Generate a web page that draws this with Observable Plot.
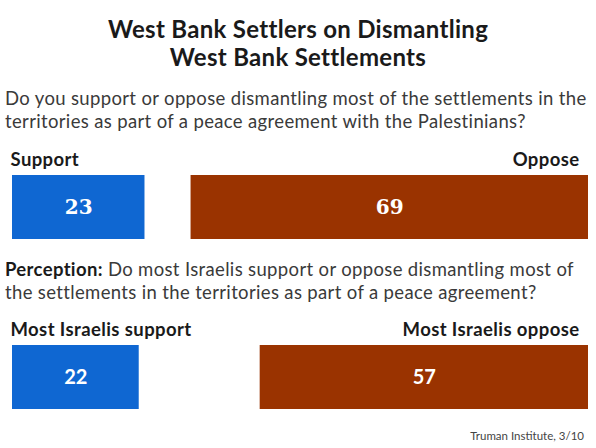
<!DOCTYPE html>
<html>
<head>
<meta charset="utf-8">
<script src="https://cdn.jsdelivr.net/npm/d3@7"></script>
<script src="https://cdn.jsdelivr.net/npm/@observablehq/plot@0.6"></script>
<style>
  html, body { margin: 0; padding: 0; background: #fff; }
  #page { position: relative; width: 596px; height: 448px; overflow: hidden; font-family: Lato, "Open Sans", sans-serif; color: #222; }
  .abs { position: absolute; left: 0; }
  #title { top: 15px; width: 596px; text-align: center; font-weight: 700; font-size: 24px; letter-spacing: 0.3px; line-height: 28px; color: #1a1a1a; }
  .q { left: 5px; width: 591px; font-size: 18.5px; letter-spacing: 0.35px; line-height: 23px; color: #3a3a3a; white-space: nowrap; }
  #q1 { top: 87px; }
  #q2 { top: 258px; }
  #q2 b { color: #1a1a1a; }
  #chart1 { top: 145px; }
  #chart2 { top: 315px; }
  #caption { top: 429px; right: 12px; left: auto; font-size: 11.5px; color: #444; }
  .lbl { letter-spacing: 0.4px; }
</style>
</head>
<body>
<div id="page">
  <div id="title" class="abs">West Bank Settlers on Dismantling<br>West Bank Settlements</div>
  <div id="q1" class="abs q">Do you support or oppose dismantling most of the settlements in the<br>territories as part of a peace agreement with the Palestinians?</div>
  <div id="chart1" class="abs"></div>
  <div id="q2" class="abs q"><b>Perception:</b> Do most Israelis support or oppose dismantling most of<br>the settlements in the territories as part of a peace agreement?</div>
  <div id="chart2" class="abs"></div>
  <div id="caption" class="abs">Truman Institute, 3/10</div>
</div>
<script>
// Data
const settlerCategories = ["Support", "Oppose"];
const settlerValues = [23, 69];
const perceptionCategories = ["Most Israelis support", "Most Israelis oppose"];
const perceptionValues = [22, 57];
const sides = ["support", "oppose"];
const colors = ["#0f67d2", "#9a3300"];

function makeRows(cats, vals) {
  return cats.map((c, i) => ({
    label: c,
    value: vals[i],
    side: sides[i],
    x1: sides[i] === "support" ? 0 : 100 - vals[i],
    x2: sides[i] === "support" ? vals[i] : 100,
    row: "r"
  }));
}

function chart(rows, valueFont) {
  const labelOpts = {
    text: "label",
    frameAnchor: "top",
    lineAnchor: "bottom",
    dy: -10,
    fontWeight: 700,
    fontSize: 18.5,
    fill: "#1a1a1a",
    className: "lbl"
  };
  return Plot.plot({
    width: 596,
    height: 100,
    marginLeft: 12,
    marginRight: 8,
    marginTop: 30,
    marginBottom: 6,
    x: {domain: [0, 100], axis: null},
    y: {domain: ["r"], axis: null, padding: 0},
    color: {domain: sides, range: colors},
    style: {fontFamily: "Lato, 'Open Sans', sans-serif", background: "transparent", overflow: "visible"},
    marks: [
      Plot.barX(rows, {x1: "x1", x2: "x2", y: "row", fill: "side", inset: 0}),
      Plot.text(rows.filter(d => d.side === "support"), {...labelOpts, x: "x1", textAnchor: "start", dx: -2}),
      Plot.text(rows.filter(d => d.side === "oppose"), {...labelOpts, x: "x2", textAnchor: "end", dx: -9}),
      Plot.text(rows, {
        x: d => (d.x1 + d.x2) / 2,
        y: "row",
        text: d => String(d.value),
        fill: "#ffffff",
        fontWeight: 700,
        fontSize: 20,
        fontFamily: valueFont
      })
    ]
  });
}

document.getElementById("chart1").appendChild(chart(makeRows(settlerCategories, settlerValues), "'DejaVu Serif', 'Liberation Serif', serif"));
document.getElementById("chart2").appendChild(chart(makeRows(perceptionCategories, perceptionValues), "Lato, sans-serif"));
</script>
</body>
</html>
